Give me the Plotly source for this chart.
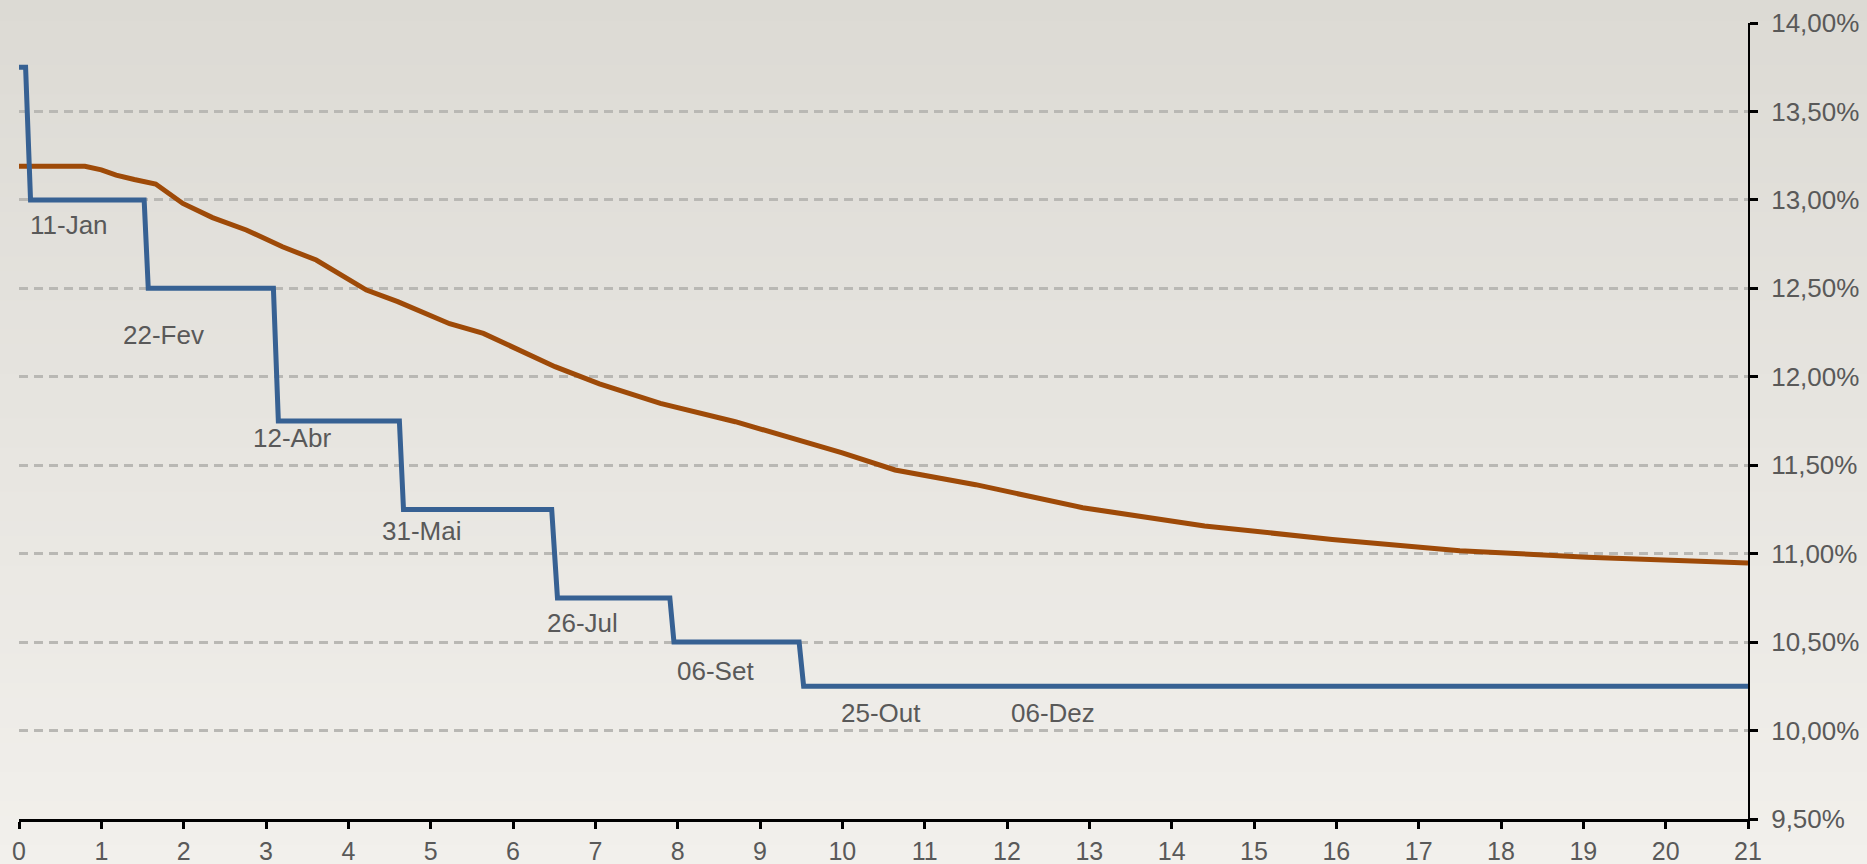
import plotly.graph_objects as go

# ---- data ----
selic_x = [0, 0.08, 0.14, 1.52, 1.57, 3.09, 3.15, 4.62, 4.67, 6.47, 6.54, 7.905, 7.955, 9.475, 9.53, 21]
selic_y = [13.75, 13.75, 13.00, 13.00, 12.50, 12.50, 11.75, 11.75, 11.25, 11.25, 10.75, 10.75, 10.50, 10.50, 10.25, 10.25]

curve_x = [0, 0.80, 1.0, 1.18, 1.40, 1.66, 1.99, 2.35, 2.76, 3.2, 3.61, 4.22, 4.6, 5.03, 5.23, 5.64,
           6.24, 6.51, 7.05, 7.79, 8.70, 9.49, 10.0, 10.64, 11.31, 11.62, 12.92, 14.40, 15.95,
           17.50, 19.05, 21.0]
curve_y = [13.19, 13.19, 13.17, 13.14, 13.115, 13.09, 12.98, 12.90, 12.83, 12.735, 12.66, 12.49, 12.425,
           12.34, 12.30, 12.245, 12.114, 12.057, 11.96, 11.85, 11.746, 11.643, 11.57, 11.473, 11.417,
           11.39, 11.26, 11.157, 11.08, 11.017, 10.98, 10.947]

meeting_labels = ["11-Jan", "22-Fev", "12-Abr", "31-Mai", "26-Jul", "06-Set", "25-Out", "06-Dez"]
meeting_x = [0.11, 1.233, 2.815, 4.39, 6.386, 7.966, 9.957, 12.026]
meeting_y = [12.858, 12.236, 11.652, 11.13, 10.606, 10.339, 10.098, 10.098]

x_ticks = list(range(0, 22))
y_ticks = [9.5, 10.0, 10.5, 11.0, 11.5, 12.0, 12.5, 13.0, 13.5, 14.0]
y_tick_text = ["9,50%", "10,00%", "10,50%", "11,00%", "11,50%", "12,00%", "12,50%", "13,00%", "13,50%", "14,00%"]

FONT = "Liberation Sans, Arial, sans-serif"
TXT = "#595959"

fig = go.Figure()
fig.add_trace(go.Scatter(x=curve_x, y=curve_y, mode="lines",
                         line=dict(color="#9E4A08", width=5), showlegend=False))
fig.add_trace(go.Scatter(x=selic_x, y=selic_y, mode="lines",
                         line=dict(color="#376193", width=5), showlegend=False))

for t, x, y in zip(meeting_labels, meeting_x, meeting_y):
    fig.add_annotation(x=x, y=y, xref="x", yref="y", text=t, showarrow=False,
                       xanchor="left", yanchor="middle",
                       font=dict(family=FONT, size=26, color=TXT))

# background vertical gradient
shapes = []
n = 60
top = (220, 218, 212)
bot = (242, 240, 236)
y_lo, y_hi = -0.07, 1.04
for i in range(n):
    f = i / (n - 1)
    c = tuple(int(round(bot[k] + (top[k] - bot[k]) * f)) for k in range(3))
    y0 = y_lo + (y_hi - y_lo) * i / n
    y1 = y_lo + (y_hi - y_lo) * (i + 1) / n + 0.002
    if i == 0:
        y0 = -0.2
    if i == n - 1:
        y1 = 1.2
    shapes.append(dict(type="rect", xref="paper", yref="paper", x0=-0.1, x1=1.2,
                       y0=y0, y1=y1, fillcolor="rgb(%d,%d,%d)" % c,
                       line=dict(width=0), layer="below"))

fig.update_layout(
    width=1867, height=864,
    margin=dict(l=19, r=119, t=23, b=45),
    paper_bgcolor="rgb(232,230,225)",
    plot_bgcolor="rgba(0,0,0,0)",
    shapes=shapes,
    font=dict(family=FONT, size=25, color=TXT),
    xaxis=dict(range=[0, 21], tickvals=x_ticks, showgrid=False, zeroline=False,
               automargin=False,
               showline=True, linecolor="black", linewidth=2.5,
               ticks="outside", ticklen=7, tickwidth=2.5, tickcolor="black",
               ticklabelstandoff=1,
               tickfont=dict(family=FONT, size=25, color=TXT)),
    yaxis=dict(range=[9.5, 14.0], side="right", tickvals=y_ticks, ticktext=y_tick_text,
               automargin=False,
               showgrid=True, gridcolor="#B9B8B4", gridwidth=2.5, griddash="9px,6px",
               zeroline=False, showline=True, linecolor="black", linewidth=2,
               ticks="outside", ticklen=8, tickwidth=2.5, tickcolor="black",
               ticklabelstandoff=8,
               tickfont=dict(family=FONT, size=26, color=TXT)),
)

fig.write_html("out.html", config={"displayModeBar": False},
               post_script="document.body.style.margin='0';document.body.style.overflow='hidden';")
